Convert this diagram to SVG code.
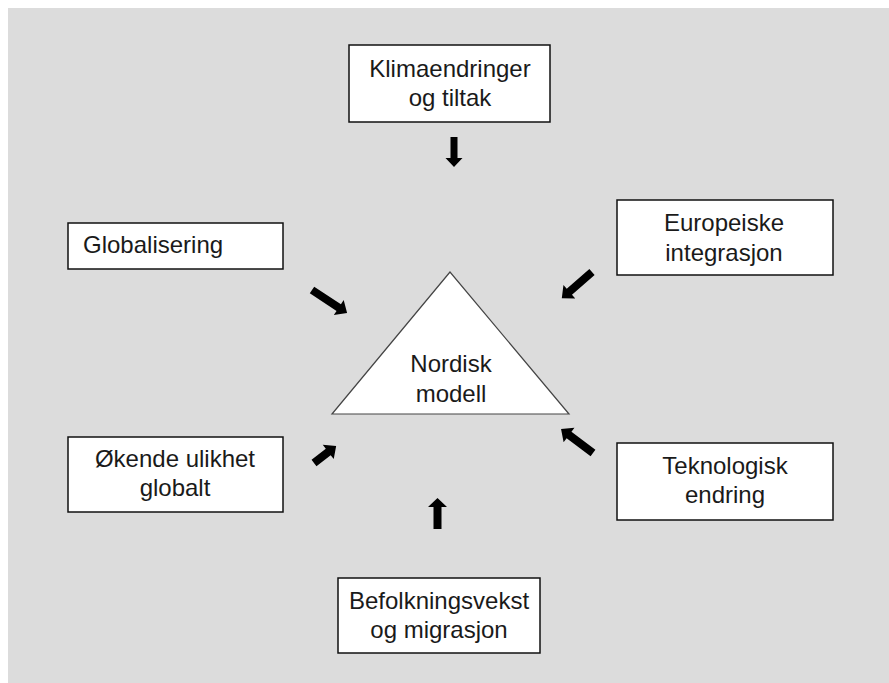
<svg xmlns="http://www.w3.org/2000/svg" width="889" height="683" viewBox="0 0 889 683">
<style>
.box{fill:#fff;stroke:#111;stroke-width:1.5}
.tri{fill:#fff;stroke:#444;stroke-width:1.2}
.t{font-family:"Liberation Sans",Arial,sans-serif;font-size:24px;fill:#1a1a1a;text-anchor:middle}
.arr{fill:#000}
</style>
<rect x="8" y="8" width="881" height="675" fill="#dcdcdc"/>
<g id="klima"><rect class="box" x="349" y="45" width="201" height="77"/><text class="t" x="450" y="77">Klimaendringer</text><text class="t" x="450" y="106">og tiltak</text></g>
<g id="global"><rect class="box" x="68" y="223" width="215" height="46"/><text class="t" x="83" y="253" style="text-anchor:start">Globalisering</text></g>
<g id="europa"><rect class="box" x="617" y="200" width="216" height="75"/><text class="t" x="724" y="231">Europeiske</text><text class="t" x="724" y="261">integrasjon</text></g>
<g id="nordisk"><polygon class="tri" points="450,272 332,414 569,414"/><text class="t" x="451" y="372">Nordisk</text><text class="t" x="451" y="402">modell</text></g>
<g id="ulikhet"><rect class="box" x="68" y="437" width="215" height="75"/><text class="t" x="175" y="467">Økende ulikhet</text><text class="t" x="175" y="496">globalt</text></g>
<g id="teknologi"><rect class="box" x="617" y="443" width="216" height="77"/><text class="t" x="725" y="474">Teknologisk</text><text class="t" x="725" y="503">endring</text></g>
<g id="befolkning"><rect class="box" x="338" y="578" width="202" height="75"/><text class="t" x="439" y="609">Befolkningsvekst</text><text class="t" x="439" y="638">og migrasjon</text></g>
<g id="connectors">
<path class="arr" transform="translate(454,137) rotate(90)" d="M0,-3.5 L21,-3.5 L21,-8.5 L30,0 L21,8.5 L21,3.5 L0,3.5 Z"/>
<path class="arr" transform="translate(437.5,529) rotate(-90)" d="M0,-4 L22,-4 L22,-9.5 L31,0 L22,9.5 L22,4 L0,4 Z"/>
<path class="arr" transform="translate(312,290) rotate(33.3)" d="M0,-4 L32,-4 L32,-9 L42,0 L32,9 L32,4 L0,4 Z"/>
<path class="arr" transform="translate(592,272) rotate(139)" d="M0,-4 L30,-4 L30,-9 L40,0 L30,9 L30,4 L0,4 Z"/>
<path class="arr" transform="translate(314,463) rotate(-37.7)" d="M0,-4 L18,-4 L18,-9 L28,0 L18,9 L18,4 L0,4 Z"/>
<path class="arr" transform="translate(593,453) rotate(-143)" d="M0,-4 L30,-4 L30,-9 L40,0 L30,9 L30,4 L0,4 Z"/>
</g>
</svg>
